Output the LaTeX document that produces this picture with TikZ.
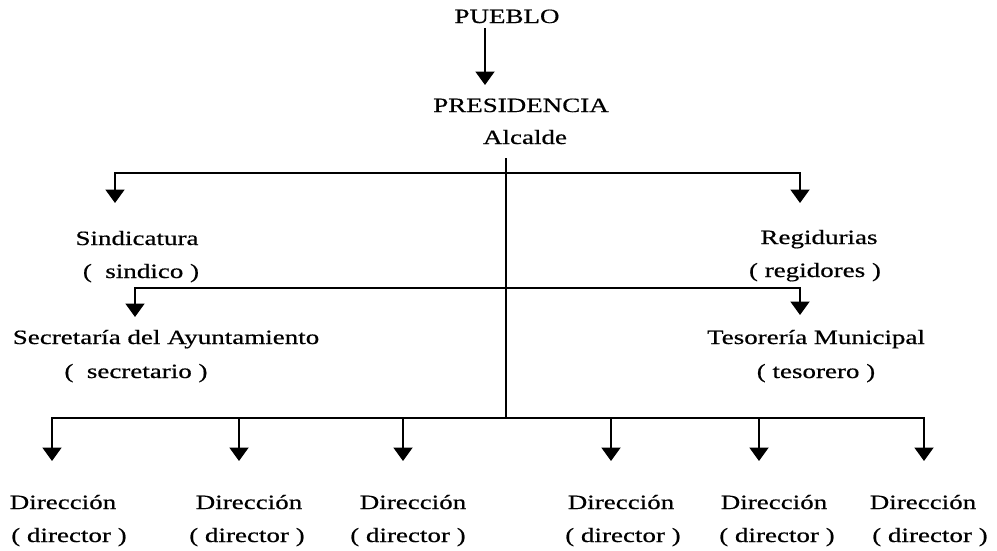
\documentclass[tikz,border=0pt]{standalone}
\usepackage{fontspec}
\setmainfont{Liberation Serif}[FakeStretch=1.33,FakeBold=0.6]
\usetikzlibrary{arrows.meta}
\begin{document}
\begin{tikzpicture}[x=1pt,y=-1pt,
  lbl/.style={anchor=base,inner sep=0pt,font=\fontsize{20.3}{24}\selectfont},
  ln/.style={line width=2pt},
  arr/.style={ln,-{Triangle[width=19pt,length=13.5pt]}}]
\useasboundingbox (0,0) rectangle (997,550);
% texts
\node[lbl] (pueblo) at (507,23) {PUEBLO};
\node[lbl] (pres) at (521,112) {PRESIDENCIA};
\node[lbl] (alc) at (525,144) {Alcalde};
\node[lbl] (sind) at (137,245) {Sindicatura};
\node[lbl] (sindp) at (141,278) {(\ \ sindico )};
\node[lbl] (reg) at (819,244) {Regidurias};
\node[lbl] (regp) at (815,277) {( regidores )};
\node[lbl] (sec) at (166,344) {Secretaría del Ayuntamiento};
\node[lbl] (secp) at (136,378) {(\ \ secretario )};
\node[lbl] (tes) at (816,344) {Tesorería Municipal};
\node[lbl] (tesp) at (816,378) {( tesorero )};
\foreach \i/\x/\xp in {1/63/69,2/249/247,3/413/408,4/621/623,5/774/777,6/923/930}{
  \node[lbl] (dir\i) at (\x,509) {Dirección};
  \node[lbl] (dirp\i) at (\xp,542) {( director )};
}
% coordinates
\coordinate (p0) at (485,28);
\coordinate (p1) at (485,85);
\coordinate (t0) at (506,158);
\coordinate (b1) at (506,173);
\coordinate (b2) at (506,288);
\coordinate (b3) at (506,418);
\coordinate (sindT) at (115,203);
\coordinate (regT) at (800,203);
\coordinate (secT) at (135,317);
\coordinate (tesT) at (800,315);
\foreach \i/\x in {1/52,2/239,3/403,4/611,5/759,6/924}{
  \coordinate (dT\i) at (\x,461);
}
% connectors
\draw[arr] (p0) -- (p1);
\draw[ln] (t0) -- (b3);
\draw[arr] (b1) -| (sindT);
\draw[arr] (b1) -| (regT);
\draw[arr] (b2) -| (secT);
\draw[arr] (b2) -| (tesT);
\foreach \i in {1,...,6}{
  \draw[arr] (b3) -| (dT\i);
}
\end{tikzpicture}
\end{document}
